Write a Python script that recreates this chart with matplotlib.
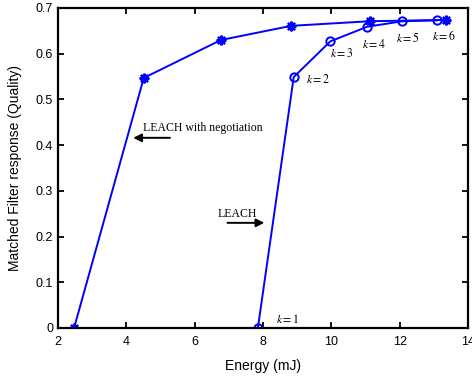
import matplotlib
matplotlib.use('Agg')
import matplotlib.pyplot as plt

# LEACH with negotiation (asterisk markers)
neg_energy = [2.47, 4.51, 6.77, 8.83, 11.12, 13.37]
neg_quality = [0.0, 0.547, 0.630, 0.661, 0.671, 0.674]

# LEACH (circle markers), k = 1..6
leach_energy = [7.85, 8.90, 9.97, 11.05, 12.08, 13.10]
leach_quality = [0.0, 0.549, 0.627, 0.659, 0.671, 0.673]
k_labels = ['$k=1$', '$k=2$', '$k=3$', '$k=4$', '$k=5$', '$k=6$']
k_label_pos = [(8.37, 0.018), (9.25, 0.543), (9.95, 0.600), (10.89, 0.621), (11.88, 0.635), (12.94, 0.639)]

plt.rcParams['font.family'] = ['Liberation Sans', 'DejaVu Sans']
plt.rcParams['mathtext.fontset'] = 'stix'

fig = plt.figure(figsize=(4.72, 3.77), dpi=100)
ax = fig.add_axes([0.1229, 0.13, 0.8686, 0.8488])

ax.plot(neg_energy, neg_quality, color='blue', linewidth=1.4,
        marker=(8, 2, 0), markersize=7, markeredgewidth=1.6)
ax.plot(leach_energy, leach_quality, color='blue', linewidth=1.4,
        marker='o', markersize=6, markerfacecolor='none', markeredgewidth=1.4)

for lab, (x, y) in zip(k_labels, k_label_pos):
    ax.text(x, y, lab, fontsize=8.5, ha='left', va='center')

ax.annotate('', xy=(4.12, 0.416), xytext=(5.36, 0.416),
            arrowprops=dict(arrowstyle='-|>', color='black', lw=1.4, mutation_scale=12))
ax.text(4.5, 0.437, 'LEACH with negotiation', fontsize=8.5, family='Liberation Serif', va='center')

ax.annotate('', xy=(8.12, 0.23), xytext=(6.88, 0.23),
            arrowprops=dict(arrowstyle='-|>', color='black', lw=1.4, mutation_scale=12))
ax.text(6.68, 0.249, 'LEACH', fontsize=8.5, family='Liberation Serif', va='center')

ax.set_xlim(2, 14)
ax.set_ylim(0, 0.7)
ax.set_xticks([2, 4, 6, 8, 10, 12, 14])
ax.set_yticks([0, 0.1, 0.2, 0.3, 0.4, 0.5, 0.6, 0.7])
ax.set_yticklabels(['0', '0.1', '0.2', '0.3', '0.4', '0.5', '0.6', '0.7'])
ax.tick_params(direction='in', top=True, right=True, length=4, width=1.3, labelsize=9, colors='black')
ax.tick_params(axis='x', pad=6)
for s in ax.spines.values():
    s.set_linewidth(1.6)

ax.set_xlabel('Energy (mJ)', fontsize=10, labelpad=8)
ax.set_ylabel('Matched Filter response (Quality)', fontsize=10, labelpad=10)

fig.savefig('out.png', dpi=100)
